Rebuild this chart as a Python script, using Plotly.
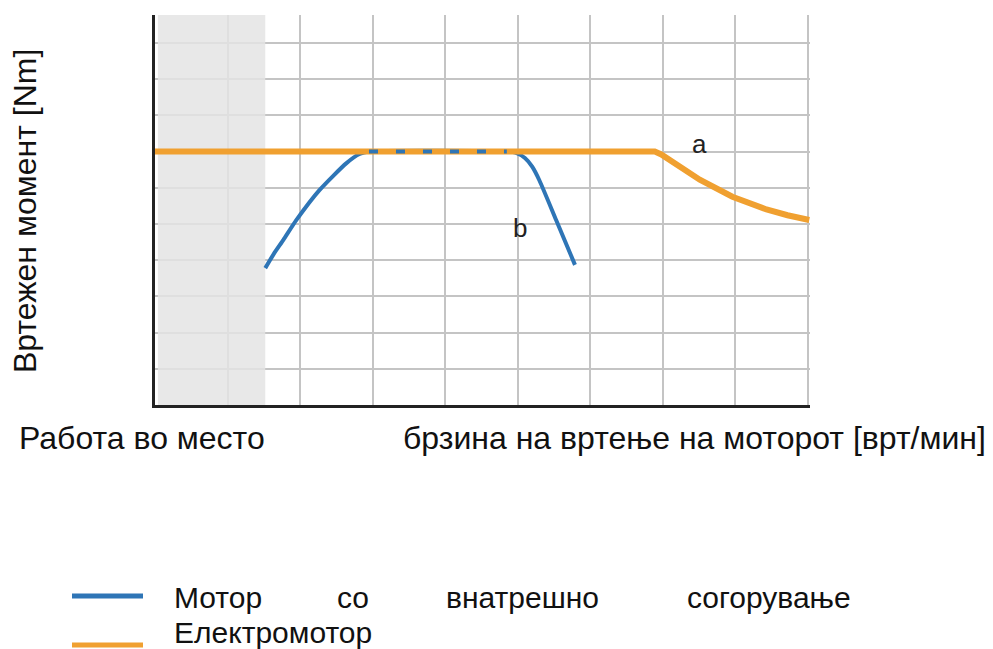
import plotly.graph_objects as go

# Data (grid units: x = speed divisions, y = torque divisions)
ice_x = [1.52, 1.64, 1.77, 1.95, 2.27, 2.64, 2.82, 2.95, 4.85, 4.97, 5.1, 5.2, 5.3, 5.53, 5.79]
ice_y = [3.78, 4.18, 4.56, 5.11, 5.94, 6.68, 6.93, 7.0, 7.0, 6.97, 6.82, 6.58, 6.2, 5.11, 3.87]
em_x = [0.0, 6.89, 6.98, 7.14, 7.51, 7.96, 8.2, 8.43, 8.72, 9.02]
em_y = [7.0, 7.0, 6.92, 6.70, 6.22, 5.75, 5.56, 5.40, 5.24, 5.11]
stall_end = 1.52
y_top = 10.77
ice_name = "Мотор со внатрешно согорување"
em_name = "Електромотор"

BLUE = "#2E75B6"
ORANGE = "#F0A030"
FONT = "Liberation Sans, Arial, sans-serif"
FS = 32
FS_LEG = 30

W, H = 993, 649
L, R, T, B = 155, 993 - 810, 15, 649 - 405

fig = go.Figure()
# stall (work in place) shaded zone
fig.add_trace(go.Scatter(x=[0.04, stall_end, stall_end, 0.04], y=[0, 0, y_top, y_top],
                         mode="lines", fill="toself", fillcolor="rgba(228,228,228,0.85)",
                         line=dict(width=0), hoverinfo="skip", showlegend=False))
fig.add_trace(go.Scatter(x=ice_x, y=ice_y, mode="lines", line_shape="spline",
                         line=dict(color=BLUE, width=4, smoothing=0.6), showlegend=False))
fig.add_trace(go.Scatter(x=em_x, y=em_y, mode="lines",
                         line=dict(color=ORANGE, width=6), showlegend=False))
flat_x = [x for x, y in zip(ice_x, ice_y) if y == 7.0]
flat_y = [y for y in ice_y if y == 7.0]
fig.add_trace(go.Scatter(x=flat_x, y=flat_y, mode="lines",
                         line=dict(color=BLUE, width=4, dash="9px,18px"),
                         showlegend=False))

fig.add_annotation(x=7.5, y=7.2, text="a", showarrow=False,
                   font=dict(family=FONT, size=26, color="#222"))
fig.add_annotation(x=5.03, y=4.9, text="b", showarrow=False,
                   font=dict(family=FONT, size=26, color="#222"))


def px_x(p):
    return (p - L) / (W - L - R)


def px_y(p):
    return (405 - p) / (H - T - B)


# axis titles
fig.add_annotation(xref="paper", yref="paper", x=px_x(25), y=px_y(211),
                   text="Вртежен момент [Nm]", textangle=-90, showarrow=False,
                   xanchor="center", yanchor="middle",
                   font=dict(family=FONT, size=FS, color="#111"))
fig.add_annotation(xref="paper", yref="paper", x=px_x(17), y=px_y(438),
                   text="Работа во место", showarrow=False, xanchor="left", yanchor="middle",
                   font=dict(family=FONT, size=FS, color="#111"))
fig.add_annotation(xref="paper", yref="paper", x=px_x(988), y=px_y(438),
                   text="брзина на вртење на моторот [врт/мин]",
                   showarrow=False, xanchor="right", yanchor="middle",
                   font=dict(family=FONT, size=FS, color="#111"))

# manual legend
fig.add_shape(type="line", xref="paper", yref="paper", x0=px_x(72), x1=px_x(143),
              y0=px_y(596), y1=px_y(596), line=dict(color=BLUE, width=5))
fig.add_shape(type="line", xref="paper", yref="paper", x0=px_x(72), x1=px_x(143),
              y0=px_y(645), y1=px_y(645), line=dict(color=ORANGE, width=5))
words = ice_name.split(" ")
word_pos = [(172, "left"), (335, "left"), (444, "left"), (853, "right")]
for wtxt, (p, anc) in zip(words, word_pos):
    fig.add_annotation(xref="paper", yref="paper", x=px_x(p), y=px_y(597), text=wtxt,
                       showarrow=False, xanchor=anc, yanchor="middle",
                       font=dict(family=FONT, size=FS_LEG, color="#111"))
fig.add_annotation(xref="paper", yref="paper", x=px_x(172), y=px_y(632), text=em_name,
                   showarrow=False, xanchor="left", yanchor="middle",
                   font=dict(family=FONT, size=FS_LEG, color="#111"))

fig.update_xaxes(range=[0, 9.03], dtick=1, tick0=0, showgrid=True, gridcolor="#C4C4C4",
                 gridwidth=1.5, showticklabels=False, ticks="", zeroline=False,
                 showline=True, linecolor="#222", linewidth=3)
fig.update_yaxes(range=[0, y_top], dtick=1, tick0=0, showgrid=True, gridcolor="#C4C4C4",
                 gridwidth=1.5, showticklabels=False, ticks="", zeroline=False,
                 showline=True, linecolor="#222", linewidth=3)

fig.update_layout(width=W, height=H, margin=dict(l=L, r=R, t=T, b=B),
                  paper_bgcolor="white", plot_bgcolor="white", showlegend=False)

fig.write_html("out.html", config={"displayModeBar": False},
               post_script="document.body.style.margin='0';document.body.style.overflow='hidden';")
